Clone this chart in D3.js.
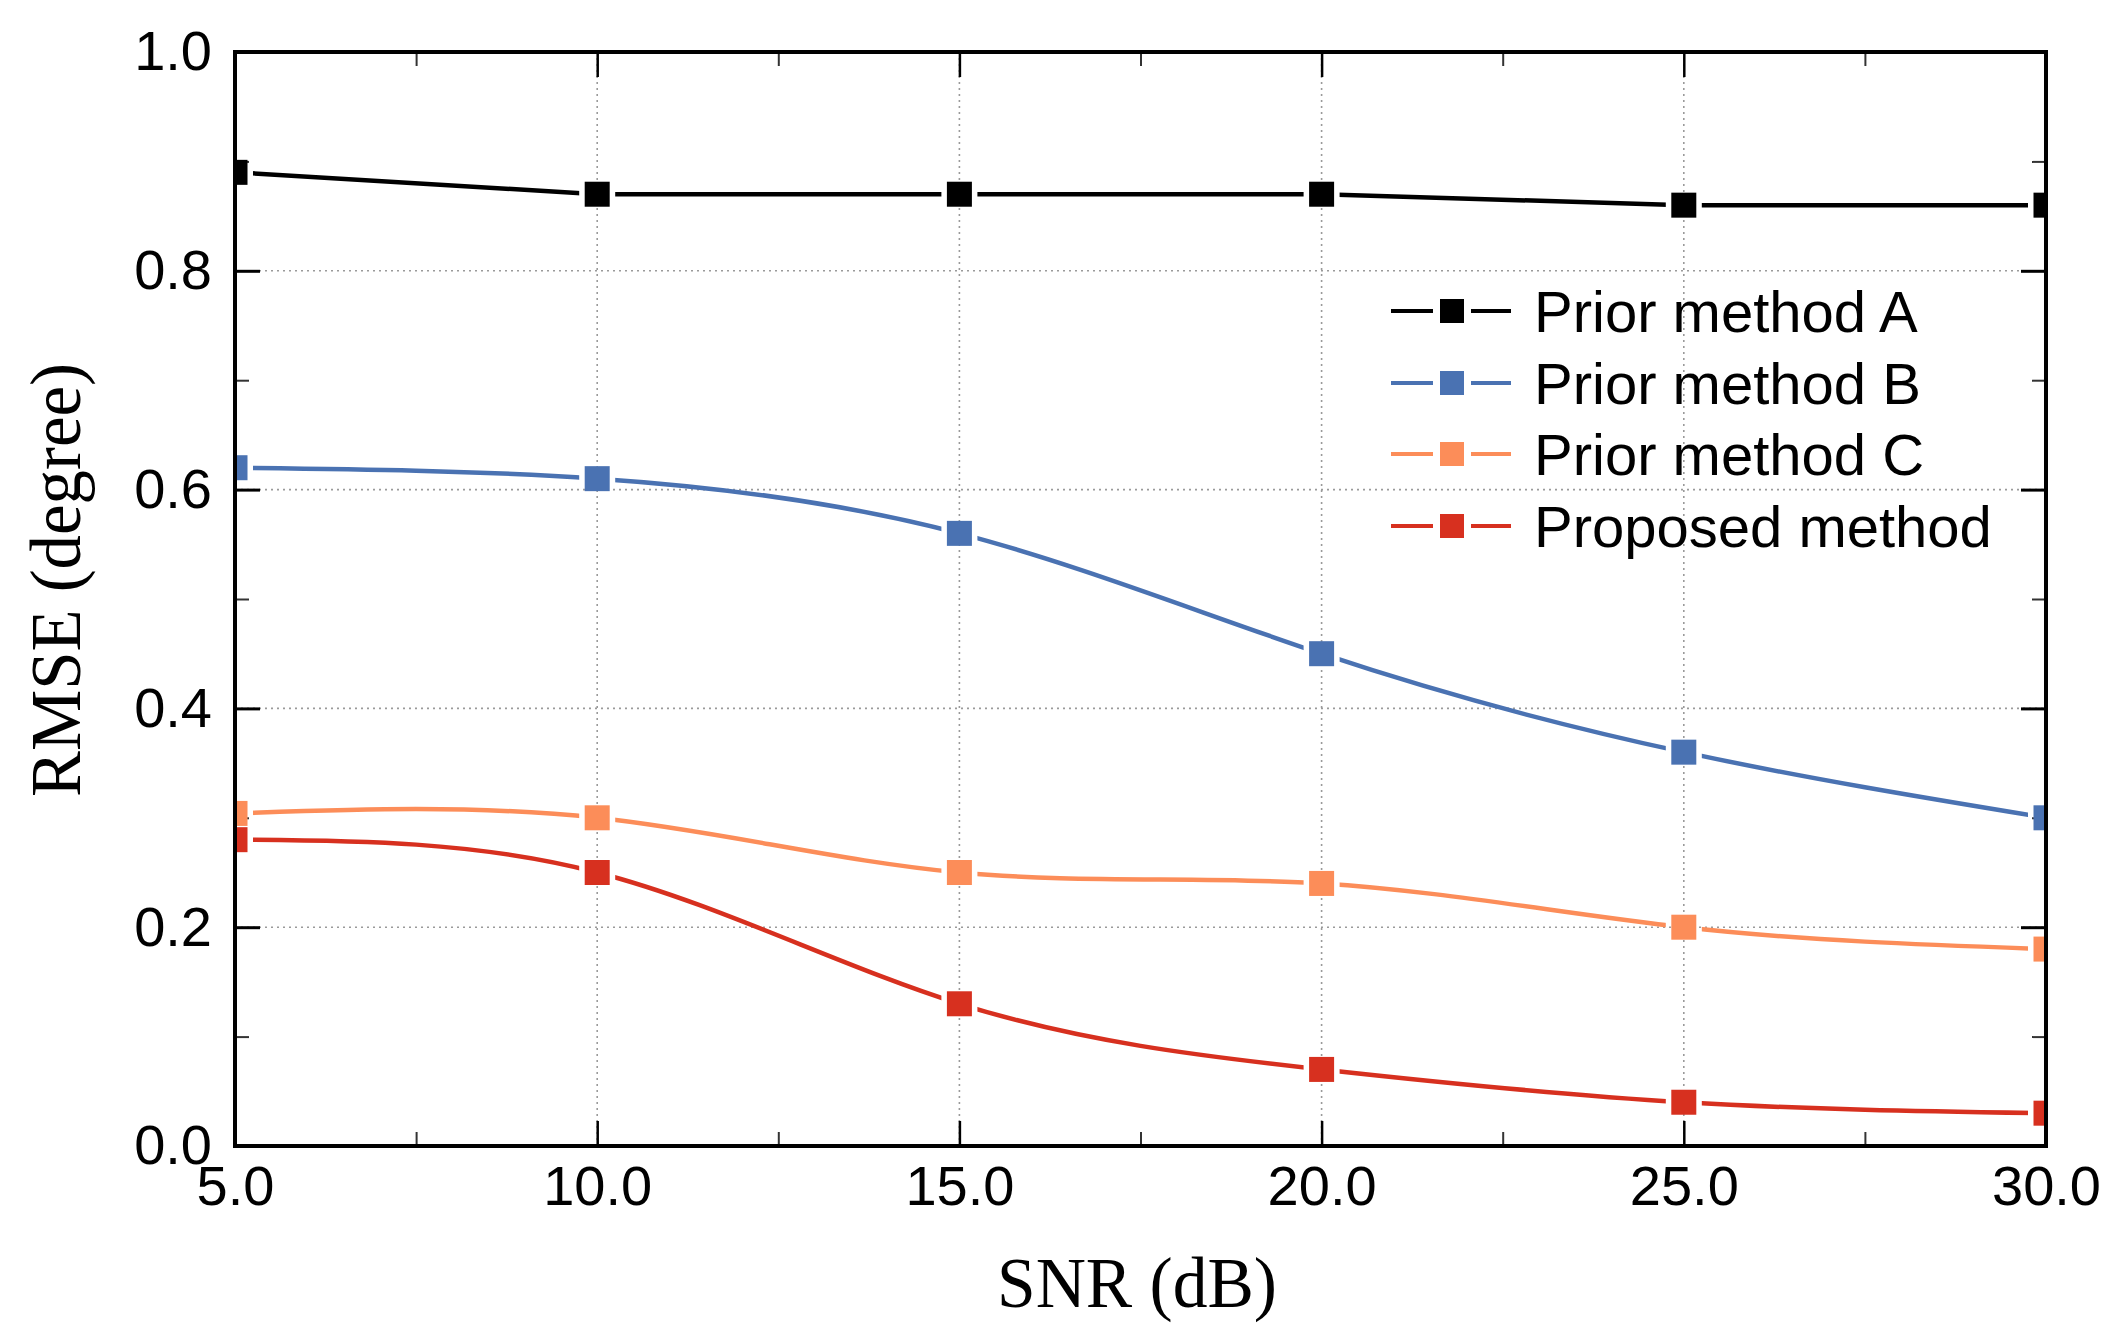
<!DOCTYPE html>
<html><head><meta charset="utf-8">
<script src="https://cdn.jsdelivr.net/npm/d3@7"></script>
<style>body{margin:0;background:#fff}</style>
</head><body><svg id="c" width="2117" height="1339"></svg>
<script>
const snr = [5, 10, 15, 20, 25, 30];
const seriesNames = ["Prior method A", "Prior method B", "Prior method C", "Proposed method"];
const methodA = [0.89, 0.87, 0.87, 0.87, 0.86, 0.86];
const methodB = [0.62, 0.61, 0.56, 0.45, 0.36, 0.30];
const methodC = [0.304, 0.30, 0.25, 0.24, 0.20, 0.18];
const proposed = [0.28, 0.25, 0.13, 0.07, 0.04, 0.03];
const seriesColors = ["#000000", "#4a72b2", "#fc8d59", "#d7301f"];
const xTickValues = [5, 10, 15, 20, 25, 30];
const xMinorValues = [7.5, 12.5, 17.5, 22.5, 27.5];
const yTickValues = [0, 0.2, 0.4, 0.6, 0.8, 1.0];
const yMinorValues = [0.1, 0.3, 0.5, 0.7, 0.9];
const xTitle = "SNR (dB)";
const yTitle = "RMSE (degree)";

const allSeries = [methodA, methodB, methodC, proposed];
const curves = [d3.curveLinear, d3.curveNatural, d3.curveNatural, d3.curveNatural];

const L = 235, R = 2046, T = 52, B = 1146;
const svg = d3.select("#c");
const x = d3.scaleLinear().domain([5, 30]).range([L, R]);
const y = d3.scaleLinear().domain([0, 1]).range([B, T]);

const defs = svg.append("defs");
defs.append("clipPath").attr("id", "plotclip").append("rect")
  .attr("x", L).attr("y", T).attr("width", R - L).attr("height", B - T);

// grid
const grid = svg.append("g").attr("stroke", "#9a9a9a").attr("stroke-width", 1.6).attr("stroke-dasharray", "2,4");
grid.selectAll("line.vx").data(xTickValues.filter(v => v > 5 && v < 30)).join("line")
  .attr("x1", d => x(d)).attr("x2", d => x(d)).attr("y1", T).attr("y2", B);
grid.selectAll("line.hy").data(yTickValues.filter(v => v > 0 && v < 1)).join("line")
  .attr("x1", L).attr("x2", R).attr("y1", d => y(d)).attr("y2", d => y(d));

// axes ticks
function styleAxis(g, w, col) {
  g.select(".domain").remove();
  g.selectAll(".tick line").attr("stroke", col).attr("stroke-width", w);
  g.selectAll("text").attr("font-family", "'Liberation Sans', Arial, sans-serif").attr("font-size", 56).attr("fill", "#000");
}
svg.append("g").attr("transform", `translate(0,${B})`)
  .call(d3.axisBottom(x).tickValues(xTickValues).tickSize(-25).tickSizeOuter(0).tickPadding(19).tickFormat(d3.format(".1f")))
  .call(g => styleAxis(g, 2.5, "#000"));
svg.append("g").attr("transform", `translate(0,${B})`)
  .call(d3.axisBottom(x).tickValues(xMinorValues).tickSize(-14).tickSizeOuter(0).tickFormat(""))
  .call(g => styleAxis(g, 2, "#333"));
svg.append("g").attr("transform", `translate(0,${T})`)
  .call(d3.axisTop(x).tickValues(xTickValues).tickSize(-25).tickSizeOuter(0).tickFormat(""))
  .call(g => styleAxis(g, 2.5, "#000"));
svg.append("g").attr("transform", `translate(0,${T})`)
  .call(d3.axisTop(x).tickValues(xMinorValues).tickSize(-14).tickSizeOuter(0).tickFormat(""))
  .call(g => styleAxis(g, 2, "#333"));
svg.append("g").attr("transform", `translate(${L},0)`)
  .call(d3.axisLeft(y).tickValues(yTickValues).tickSize(-25).tickSizeOuter(0).tickPadding(23).tickFormat(d3.format(".1f")))
  .call(g => styleAxis(g, 3, "#000"));
svg.append("g").attr("transform", `translate(${L},0)`)
  .call(d3.axisLeft(y).tickValues(yMinorValues).tickSize(-14).tickSizeOuter(0).tickFormat(""))
  .call(g => styleAxis(g, 2, "#333"));
svg.append("g").attr("transform", `translate(${R},0)`)
  .call(d3.axisRight(y).tickValues(yTickValues).tickSize(-25).tickSizeOuter(0).tickFormat(""))
  .call(g => styleAxis(g, 3, "#000"));
svg.append("g").attr("transform", `translate(${R},0)`)
  .call(d3.axisRight(y).tickValues(yMinorValues).tickSize(-14).tickSizeOuter(0).tickFormat(""))
  .call(g => styleAxis(g, 2, "#333"));

// series
const M = 25, GAP = 36;
const plot = svg.append("g").attr("clip-path", "url(#plotclip)");
allSeries.forEach((vals, si) => {
  const line = d3.line().x((d, i) => x(snr[i])).y(d => y(d)).curve(curves[si]);
  const mask = defs.append("mask").attr("id", "m" + si).attr("maskUnits", "userSpaceOnUse")
    .attr("x", 0).attr("y", 0).attr("width", 2117).attr("height", 1339);
  mask.append("rect").attr("x", 0).attr("y", 0).attr("width", 2117).attr("height", 1339).attr("fill", "#fff");
  mask.selectAll("rect.g").data(vals).join("rect").attr("class", "g")
    .attr("x", (d, i) => x(snr[i]) - GAP / 2).attr("y", d => y(d) - GAP / 2)
    .attr("width", GAP).attr("height", GAP).attr("fill", "#000");
  plot.append("path").datum(vals).attr("d", line).attr("fill", "none")
    .attr("stroke", seriesColors[si]).attr("stroke-width", 4.5).attr("mask", `url(#m${si})`);
});
allSeries.forEach((vals, si) => {
  plot.append("g").selectAll("rect").data(vals).join("rect")
    .attr("x", (d, i) => x(snr[i]) - M / 2).attr("y", d => y(d) - M / 2)
    .attr("width", M).attr("height", M).attr("fill", seriesColors[si]);
});

// frame
svg.append("rect").attr("x", L).attr("y", T).attr("width", R - L).attr("height", B - T)
  .attr("fill", "none").attr("stroke", "#000").attr("stroke-width", 4);

// legend
const lg = svg.append("g");
const rowY = [311, 383, 454, 526];
seriesNames.forEach((name, i) => {
  const g = lg.append("g").attr("transform", `translate(0,${rowY[i]})`);
  g.append("line").attr("x1", 1391).attr("x2", 1433).attr("y1", 0).attr("y2", 0)
    .attr("stroke", seriesColors[i]).attr("stroke-width", 4);
  g.append("line").attr("x1", 1471).attr("x2", 1511).attr("y1", 0).attr("y2", 0)
    .attr("stroke", seriesColors[i]).attr("stroke-width", 4);
  g.append("rect").attr("x", 1452 - 12).attr("y", -12).attr("width", 24).attr("height", 24).attr("fill", seriesColors[i]);
  g.append("text").attr("x", 1534).attr("y", 0).attr("dy", "0.36em")
    .attr("font-family", "'Liberation Sans', Arial, sans-serif").attr("font-size", 58).text(name);
});

// titles
svg.append("text").attr("x", 1137).attr("y", 1307).attr("text-anchor", "middle")
  .attr("font-family", "'Liberation Serif', 'Times New Roman', serif").attr("font-size", 72)
  .attr("textLength", 280).attr("lengthAdjust", "spacingAndGlyphs").text(xTitle);
svg.append("text").attr("transform", "translate(80,580) rotate(-90)").attr("text-anchor", "middle")
  .attr("font-family", "'Liberation Serif', 'Times New Roman', serif").attr("font-size", 72)
  .attr("textLength", 434).attr("lengthAdjust", "spacingAndGlyphs").text(yTitle);
</script></body></html>
